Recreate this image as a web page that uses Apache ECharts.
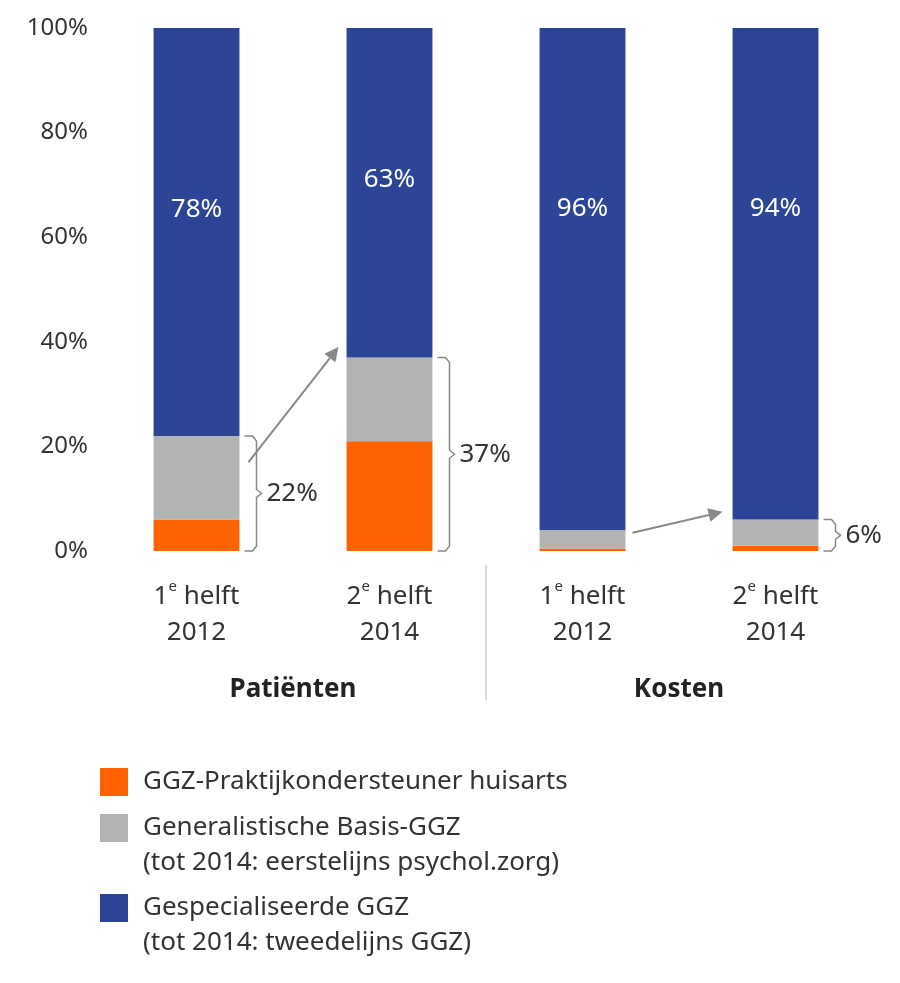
<!DOCTYPE html>
<html><head><meta charset="utf-8">
<script src="https://cdn.jsdelivr.net/npm/echarts@6/dist/echarts.min.js"></script>
<style>html,body{margin:0;padding:0;background:#fff}#c{width:900px;height:983px}</style>
</head><body><div id="c"></div>
<script>
const categories = ['1e helft 2012a','2e helft 2014a','1e helft 2012b','2e helft 2014b'];
const catLabels = [['1','helft','2012'],['2','helft','2014'],['1','helft','2012'],['2','helft','2014']];
const orange = [6, 21, 0.5, 1];
const gray = [16, 16, 3.5, 5];
const blue = [78, 63, 96, 94];
const blueLabels = ['78%','63%','96%','94%'];
const labelOffsets = [-22, -13, -70, -65];
const totals = ['22%','37%',null,'6%'];
const yTicks = [0,20,40,60,80,100];
const FONT = 'Noto Sans';
const C_OR = '#FF6200', C_GR = '#B2B3B5', C_BL = '#2D4596';

const chart = echarts.init(document.getElementById('c'));
chart.setOption({
  animation:false,
  textStyle:{fontFamily:FONT},
  grid:{left:100,right:28,top:28,bottom:432},
  xAxis:{type:'category',data:categories,axisLine:{show:false},axisTick:{show:false},
    axisLabel:{margin:28,interval:0,formatter:(v,i)=>'{n|'+catLabels[i][0]+'}{s|e}{n| '+catLabels[i][1]+'}\n{n|'+catLabels[i][2]+'}',
      rich:{n:{fontSize:26,color:'#333',lineHeight:36,fontFamily:FONT},s:{fontSize:15,color:'#333',verticalAlign:'top',padding:[0,0,12,0],fontFamily:FONT}}}},
  yAxis:{type:'value',min:0,max:100,interval:20,splitLine:{show:false},axisLine:{show:false},axisTick:{show:false},
    axisLabel:{formatter:v=>v+'%',fontSize:24,color:'#333',margin:12}},
  series:[
    {type:'bar',stack:'a',data:orange,barWidth:'44.5%',itemStyle:{color:C_OR}},
    {type:'bar',stack:'a',data:gray,itemStyle:{color:C_GR}},
    {type:'bar',stack:'a',itemStyle:{color:C_BL},
     data:blue.map((v,i)=>({value:v,label:{show:true,position:'inside',offset:[0,labelOffsets[i]],formatter:blueLabels[i],color:'#fff',fontSize:26}}))}
  ]
});

const g = [];
const px = (i,v)=>chart.convertToPixel({xAxisIndex:0,yAxisIndex:0},[i,v]);
const halfW = 43;
totals.forEach((t,i)=>{
  if(!t) return;
  const top = orange[i]+gray[i];
  const p0 = px(i,0), p1 = px(i,top);
  const x0 = p0[0]+halfW+5, x1 = x0+12, ym=(p0[1]+p1[1])/2;
  g.push({type:'polyline',shape:{points:[[x0,p1[1]],[x1-4,p1[1]],[x1,p1[1]+5],[x1,ym-4],[x1+5,ym],[x1,ym+4],[x1,p0[1]-5],[x1-4,p0[1]],[x0,p0[1]]],smooth:0},style:{stroke:'#888',lineWidth:1.5,fill:null}});
  g.push({type:'text',style:{text:t,x:x1+10,y:ym,verticalAlign:'middle',fontSize:26,fill:'#333',fontFamily:FONT}});
});
function arrow(a,b){
  const ang=Math.atan2(b[1]-a[1],b[0]-a[0]), L=14,W=7;
  const bx=b[0]-L*Math.cos(ang), by=b[1]-L*Math.sin(ang);
  g.push({type:'line',shape:{x1:a[0],y1:a[1],x2:bx,y2:by},style:{stroke:'#888',lineWidth:2}});
  g.push({type:'polygon',shape:{points:[b,[bx+W*Math.sin(ang),by-W*Math.cos(ang)],[bx-W*Math.sin(ang),by+W*Math.cos(ang)]]},style:{fill:'#888'}});
}
{ const a=px(0,orange[0]+gray[0]-5), b=px(1,orange[1]+gray[1]+2); arrow([a[0]+halfW+9,a[1]],[b[0]-halfW-8,b[1]]); }
{ const a=px(2,orange[2]+gray[2]-0.5), b=px(3,orange[3]+gray[3]+1.5); arrow([a[0]+halfW+7,a[1]],[b[0]-halfW-10,b[1]]); }
const sep=(px(1,0)[0]+px(2,0)[0])/2;
g.push({type:'line',shape:{x1:sep,y1:565,x2:sep,y2:700},style:{stroke:'#ccc',lineWidth:1.5}});
g.push({type:'text',style:{text:'Patiënten',x:(px(0,0)[0]+px(1,0)[0])/2,y:690,align:'center',verticalAlign:'middle',fontSize:26,fontWeight:'bold',fill:'#222',fontFamily:FONT}});
g.push({type:'text',style:{text:'Kosten',x:(px(2,0)[0]+px(3,0)[0])/2,y:690,align:'center',verticalAlign:'middle',fontSize:26,fontWeight:'bold',fill:'#222',fontFamily:FONT}});
const legend=[[C_OR,['GGZ-Praktijkondersteuner huisarts'],782],[C_GR,['Generalistische Basis-GGZ','(tot 2014: eerstelijns psychol.zorg)'],828],[C_BL,['Gespecialiseerde GGZ','(tot 2014: tweedelijns GGZ)'],908]];
legend.forEach(([c,lines,y])=>{
  g.push({type:'rect',shape:{x:100,y:y-14,width:28,height:28},style:{fill:c}});
  lines.forEach((t,k)=>g.push({type:'text',style:{text:t,x:143,y:y+k*35,verticalAlign:'middle',fontSize:26,fill:'#333',fontFamily:FONT}}));
});
chart.setOption({graphic:g});
</script></body></html>
